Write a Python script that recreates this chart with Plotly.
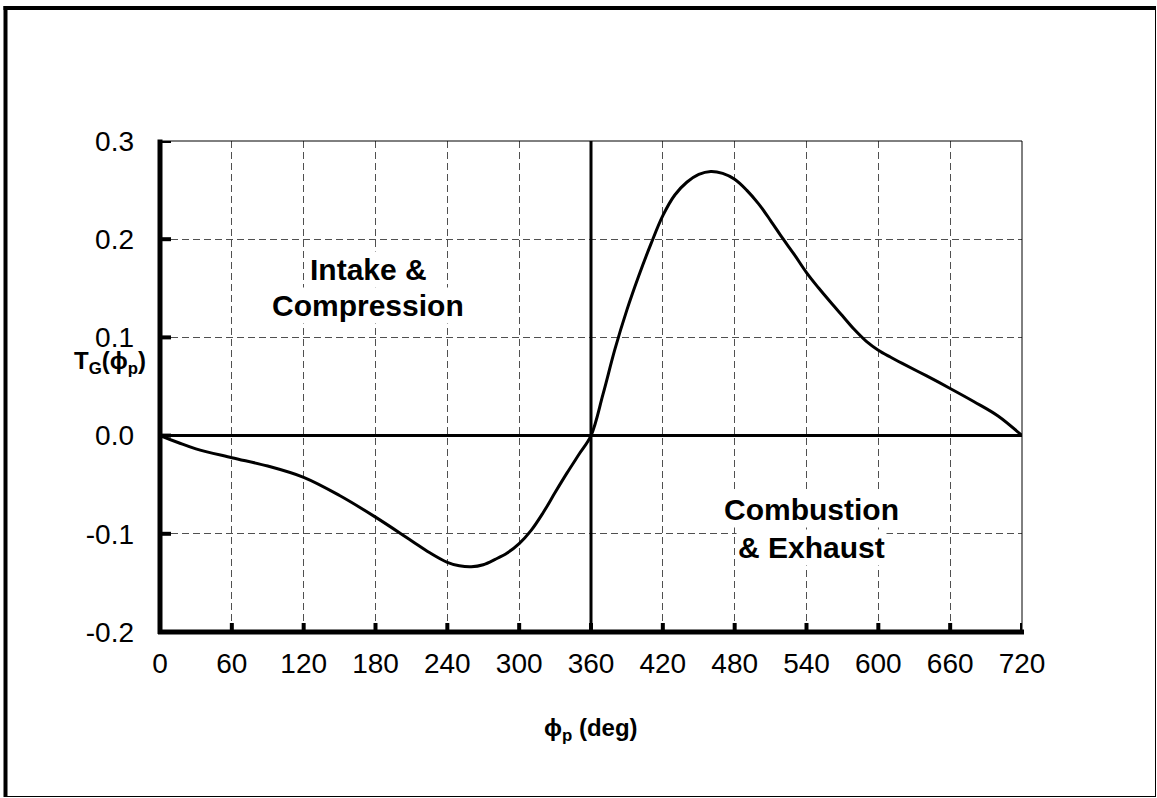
import plotly.graph_objects as go

phi = [0, 15, 30, 60, 90, 120, 150, 180, 210, 225, 240, 250, 260, 270, 280, 290,
       300, 310, 320, 330, 340, 350, 360, 370, 380, 390, 400, 410, 420, 430, 440,
       450, 460, 470, 480, 490, 500, 510, 520, 530, 540, 550, 560, 570, 580, 590,
       600, 610, 620, 640, 660, 680, 700, 720]
torque = [0, -0.007, -0.0135, -0.0225, -0.031, -0.0425, -0.061, -0.083, -0.107,
          -0.119, -0.129, -0.1325, -0.1335, -0.1315, -0.126, -0.1195, -0.110,
          -0.0965, -0.0785, -0.058, -0.038, -0.019, 0, 0.042, 0.088, 0.128, 0.163,
          0.195, 0.224, 0.245, 0.258, 0.266, 0.269, 0.267, 0.261, 0.250, 0.236,
          0.219, 0.201, 0.184, 0.166, 0.1505, 0.136, 0.122, 0.108, 0.096, 0.087,
          0.080, 0.0735, 0.061, 0.048, 0.0345, 0.020, 0]

x_ticks = [0, 60, 120, 180, 240, 300, 360, 420, 480, 540, 600, 660, 720]
y_ticks = [-0.2, -0.1, 0.0, 0.1, 0.2, 0.3]
y_tick_text = ["-0.2", "-0.1", "0.0", "0.1", "0.2", "0.3"]

W, H = 1157, 798
L, R, T, B = 160, 1022, 141, 632
PW, PH = R - L, B - T

fig = go.Figure()
fig.add_trace(go.Scatter(x=phi, y=torque, mode="lines",
                         line=dict(color="black", width=3, shape="spline", smoothing=1.0),
                         showlegend=False, hoverinfo="skip"))

font = "Liberation Sans, Arial, sans-serif"


def px_x(p):
    return (p - L) / PW


def px_y(p):
    return (B - p) / PH


blk = "black"
shapes = []
# outer frame
shapes.append(dict(type="line", xref="paper", yref="paper", x0=px_x(3.5), x1=px_x(1156), y0=px_y(8), y1=px_y(8), line=dict(color=blk, width=4)))
shapes.append(dict(type="line", xref="paper", yref="paper", x0=px_x(5.5), x1=px_x(5.5), y0=px_y(6), y1=px_y(797), line=dict(color=blk, width=4)))
shapes.append(dict(type="line", xref="paper", yref="paper", x0=px_x(5), x1=px_x(1156), y0=px_y(796.5), y1=px_y(796.5), line=dict(color=blk, width=1)))
shapes.append(dict(type="line", xref="paper", yref="paper", x0=px_x(1155.5), x1=px_x(1155.5), y0=px_y(8), y1=px_y(797), line=dict(color=blk, width=1)))
# plot area top and right thin lines
shapes.append(dict(type="line", xref="paper", yref="paper", x0=0, x1=1, y0=1, y1=1, line=dict(color=blk, width=1)))
shapes.append(dict(type="line", xref="paper", yref="paper", x0=1, x1=1, y0=0, y1=1, line=dict(color=blk, width=1)))
# TDC line at 360
shapes.append(dict(type="line", xref="x", yref="paper", x0=360, x1=360, y0=0, y1=1, line=dict(color=blk, width=3)))
# thick left and bottom axis lines
shapes.append(dict(type="line", xref="paper", yref="paper", x0=px_x(160), x1=px_x(160), y0=px_y(634), y1=px_y(139.5), line=dict(color=blk, width=5)))
shapes.append(dict(type="line", xref="paper", yref="paper", x0=px_x(158), x1=px_x(1024), y0=px_y(632), y1=px_y(632), line=dict(color=blk, width=5)))
# inside tick marks
for xv in x_ticks:
    shapes.append(dict(type="line", xref="x", yref="paper", x0=xv, x1=xv, y0=0, y1=9 / PH, line=dict(color=blk, width=4)))
for yv in y_ticks:
    shapes.append(dict(type="line", xref="paper", yref="y", x0=0, x1=11 / PW, y0=yv, y1=yv, line=dict(color=blk, width=4)))

grid_col = "#505050"

fig.update_layout(
    width=W, height=H,
    margin=dict(l=L, r=W - R, t=T, b=H - B),
    paper_bgcolor="white", plot_bgcolor="white",
    font=dict(family=font, color="black"),
    shapes=shapes,
    xaxis=dict(range=[0, 720], tickvals=x_ticks, ticktext=[str(v) for v in x_ticks],
               showgrid=True, gridcolor=grid_col, griddash="7px,4px", gridwidth=1,
               zeroline=False, showline=False, ticks="",
               tickfont=dict(size=28, family=font, color="black"), ticklabelstandoff=12),
    yaxis=dict(range=[-0.2, 0.3], tickvals=y_ticks, ticktext=y_tick_text,
               showgrid=True, gridcolor=grid_col, griddash="7px,4px", gridwidth=1,
               zeroline=True, zerolinecolor="black", zerolinewidth=3,
               showline=False, ticks="",
               tickfont=dict(size=28, family=font, color="black"), ticklabelstandoff=25),
    annotations=[
        dict(x=174, y=0.169, xref="x", yref="y", text="<b>Intake &amp;</b>",
             showarrow=False, font=dict(size=30, family=font), bgcolor="white",
             xanchor="center", yanchor="middle"),
        dict(x=174, y=0.132, xref="x", yref="y", text="<b>Compression</b>",
             showarrow=False, font=dict(size=30, family=font), bgcolor="white",
             xanchor="center", yanchor="middle"),
        dict(x=544, y=-0.0755, xref="x", yref="y", text="<b>Combustion</b>",
             showarrow=False, font=dict(size=30, family=font), bgcolor="white",
             xanchor="center", yanchor="middle"),
        dict(x=544, y=-0.114, xref="x", yref="y", text="<b>&amp; Exhaust</b>",
             showarrow=False, font=dict(size=30, family=font), bgcolor="white",
             xanchor="center", yanchor="middle"),
        dict(x=0.5, y=px_y(729), xref="paper", yref="paper",
             text="<b>\u03d5<sub>p</sub> (deg)</b>", showarrow=False,
             font=dict(size=24, family=font), xanchor="center", yanchor="middle"),
        dict(x=px_x(72), y=0.074, xref="paper", yref="y", xanchor="left", yanchor="middle",
             text="<b>T<sub>G</sub>(\u03d5<sub>p</sub>)</b>", showarrow=False,
             font=dict(size=24, family=font)),
    ],
)

fig.write_html("out.html")
